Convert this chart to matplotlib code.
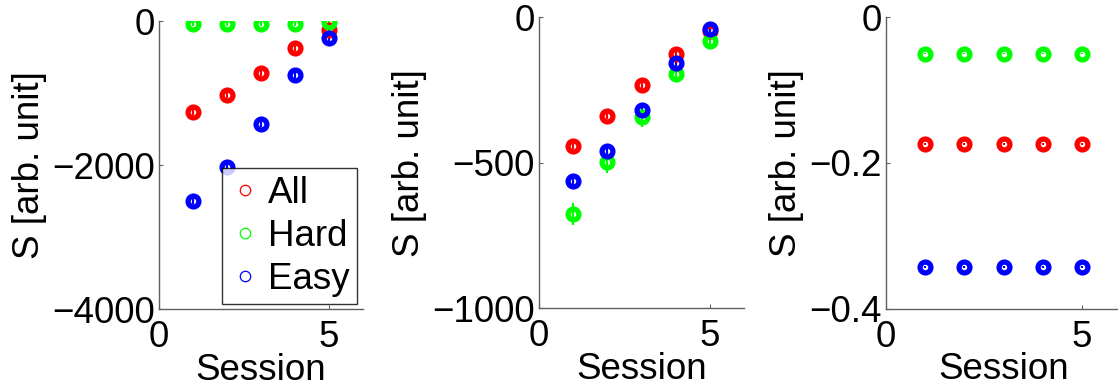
import numpy as np
import matplotlib.pyplot as plt
from matplotlib.lines import Line2D

plt.rcParams['font.family'] = ['Liberation Sans', 'DejaVu Sans']
plt.rcParams['font.size'] = 26.5

sessions = [1, 2, 3, 4, 5]
groups = ['All', 'Hard', 'Easy']
colors = ['#ff0000', '#00ff00', '#0000ff']

# left panel
left_all = [-1260, -1020, -720, -370, -115]
left_all_err = [40, 40, 40, 40, 60]
left_hard = [-37, -37, -37, -37, -12]
left_hard_err = [30, 30, 30, 30, 30]
left_easy = [-2495, -2020, -1420, -750, -236]
left_easy_err = [45, 45, 45, 45, 45]

# middle panel
mid_all = [-441, -338, -233, -124, -45]
mid_all_err = [12, 12, 12, 12, 12]
mid_hard = [-676, -498, -341, -193, -81]
mid_hard_err = [37, 36, 34, 28, 22]
mid_easy = [-564, -458, -318, -156, -41]
mid_easy_err = [14, 14, 14, 14, 14]

# right panel
right_all = [-0.174, -0.174, -0.174, -0.174, -0.174]
right_hard = [-0.050, -0.050, -0.050, -0.050, -0.050]
right_easy = [-0.343, -0.343, -0.343, -0.343, -0.343]
right_err = [0.001, 0.001, 0.001, 0.001, 0.001]

panels = [
    ([left_all, left_hard, left_easy], [left_all_err, left_hard_err, left_easy_err],
     (-4000, 0), [-4000, -2000, 0], ['\u22124000', '\u22122000', '0']),
    ([mid_all, mid_hard, mid_easy], [mid_all_err, mid_hard_err, mid_easy_err],
     (-1000, 0), [-1000, -500, 0], ['\u22121000', '\u2212500', '0']),
    ([right_all, right_hard, right_easy], [right_err, right_err, right_err],
     (-0.4, 0), [-0.4, -0.2, 0], ['\u22120.4', '\u22120.2', '0']),
]

# axes boxes in figure fractions
boxes = [
    [0.1422, 0.211, 0.1825, 0.7347],
    [0.4821, 0.2135, 0.1834, 0.742],
    [0.7925, 0.2125, 0.2102, 0.7434],
]

fig = plt.figure(figsize=(11.18, 3.92), dpi=100)
axc = '#606060'

axes = []
for (means, errs, ylim, yt, ytl), box in zip(panels, boxes):
    ax = fig.add_axes(box)
    for m, e, c in zip(means, errs, colors):
        ax.errorbar(sessions, m, yerr=e, fmt='o', color=c, mfc='none',
                    ms=7.8, mew=3.8, elinewidth=1.6, capsize=0)
    ax.set_xlim(0, 6)
    ax.set_ylim(*ylim)
    ax.set_xticks([0, 5])
    ax.set_yticks(yt)
    ax.set_yticklabels(ytl)
    for s in ['top', 'right']:
        ax.spines[s].set_visible(False)
    for s in ['left', 'bottom']:
        ax.spines[s].set_color(axc)
        ax.spines[s].set_linewidth(1.0)
    ax.tick_params(direction='in', length=3, width=0.8, color=axc)
    ax.tick_params(axis='x', pad=8)
    ax.tick_params(axis='y', pad=3)
    ax.set_xlabel('Session', labelpad=-2)
    ax.set_ylabel('S [arb. unit]', labelpad=4)
    axes.append(ax)

handles = [Line2D([], [], ls='none', marker='o', ms=7.5, mew=0.9, mfc='none', color=c)
           for c in colors]
leg = axes[0].legend(handles, groups, loc='lower right', bbox_to_anchor=(0.97, 0.017),
                     borderaxespad=0, frameon=True, fancybox=False, fontsize=26.5,
                     borderpad=0.2, handlelength=0.85, handletextpad=0.2,
                     labelspacing=0.22)
leg.get_frame().set_edgecolor('black')
leg.get_frame().set_linewidth(1.0)

fig.savefig('out.png', dpi=100)
